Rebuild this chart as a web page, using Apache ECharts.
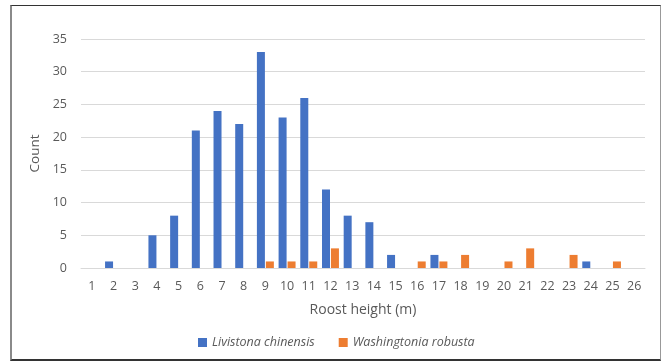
<!DOCTYPE html>
<html>
<head>
<meta charset="utf-8">
<script src="https://cdn.jsdelivr.net/npm/echarts@6/dist/echarts.min.js"></script>
<style>
html,body{margin:0;padding:0;background:#fff;}
#frame{position:absolute;left:10px;top:5px;width:648px;height:353px;border-left:2px solid #8a8a8a;border-top:1px solid #333;border-right:1px solid #999;border-bottom:2px solid #333;}
#chart{position:absolute;left:0;top:0;width:661px;height:362px;}
</style>
</head>
<body>
<div id="frame"></div>
<div id="chart"></div>
<script>
const categories = ['1','2','3','4','5','6','7','8','9','10','11','12','13','14','15','16','17','18','19','20','21','22','23','24','25','26'];
const livistona = [0,1,0,5,8,21,24,22,33,23,26,12,8,7,2,0,2,0,0,0,0,0,0,1,0,0];
const washingtonia = [0,0,0,0,0,0,0,0,1,1,1,3,0,0,0,1,1,2,0,1,3,0,2,0,1,0];
const yTicks = {min:0, max:35, interval:5};

const chart = echarts.init(document.getElementById('chart'));
const txt = '#595959';
chart.setOption({
  animation:false,
  backgroundColor:'transparent',
  textStyle:{fontFamily:'"Open Sans", "Noto Sans", sans-serif'},
  grid:{left:81, right:16, top:39, bottom:94},
  legend:{
    left:193, top:331, itemWidth:9, itemHeight:9, itemGap:24,
    icon:'rect',
    textStyle:{color:txt, fontSize:12.5, fontStyle:'italic', fontFamily:'"Open Sans", sans-serif'},
    data:['Livistona chinensis','Washingtonia robusta']
  },
  xAxis:{
    type:'category', data:categories,
    name:'Roost height (m)', nameLocation:'middle', nameGap:35,
    nameTextStyle:{color:txt, fontSize:14},
    axisLine:{show:true, lineStyle:{color:'#d9d9d9'}},
    axisTick:{show:false},
    axisLabel:{color:txt, fontSize:12.5, margin:12, interval:0}
  },
  yAxis:{
    type:'value', min:yTicks.min, max:yTicks.max, interval:yTicks.interval,
    name:'Count', nameLocation:'middle', nameGap:37, nameRotate:90,
    nameTextStyle:{color:txt, fontSize:13.5},
    axisLine:{show:false}, axisTick:{show:false},
    axisLabel:{color:txt, fontSize:12.5, margin:14},
    splitLine:{lineStyle:{color:'#d9d9d9', width:1}}
  },
  series:[
    {name:'Livistona chinensis', type:'bar', data:livistona, barWidth:8, barGap:'12%', itemStyle:{color:'#4472C4'}},
    {name:'Washingtonia robusta', type:'bar', data:washingtonia, barWidth:8, barGap:'12%', itemStyle:{color:'#ED7D31'}}
  ]
});
</script>
</body>
</html>
